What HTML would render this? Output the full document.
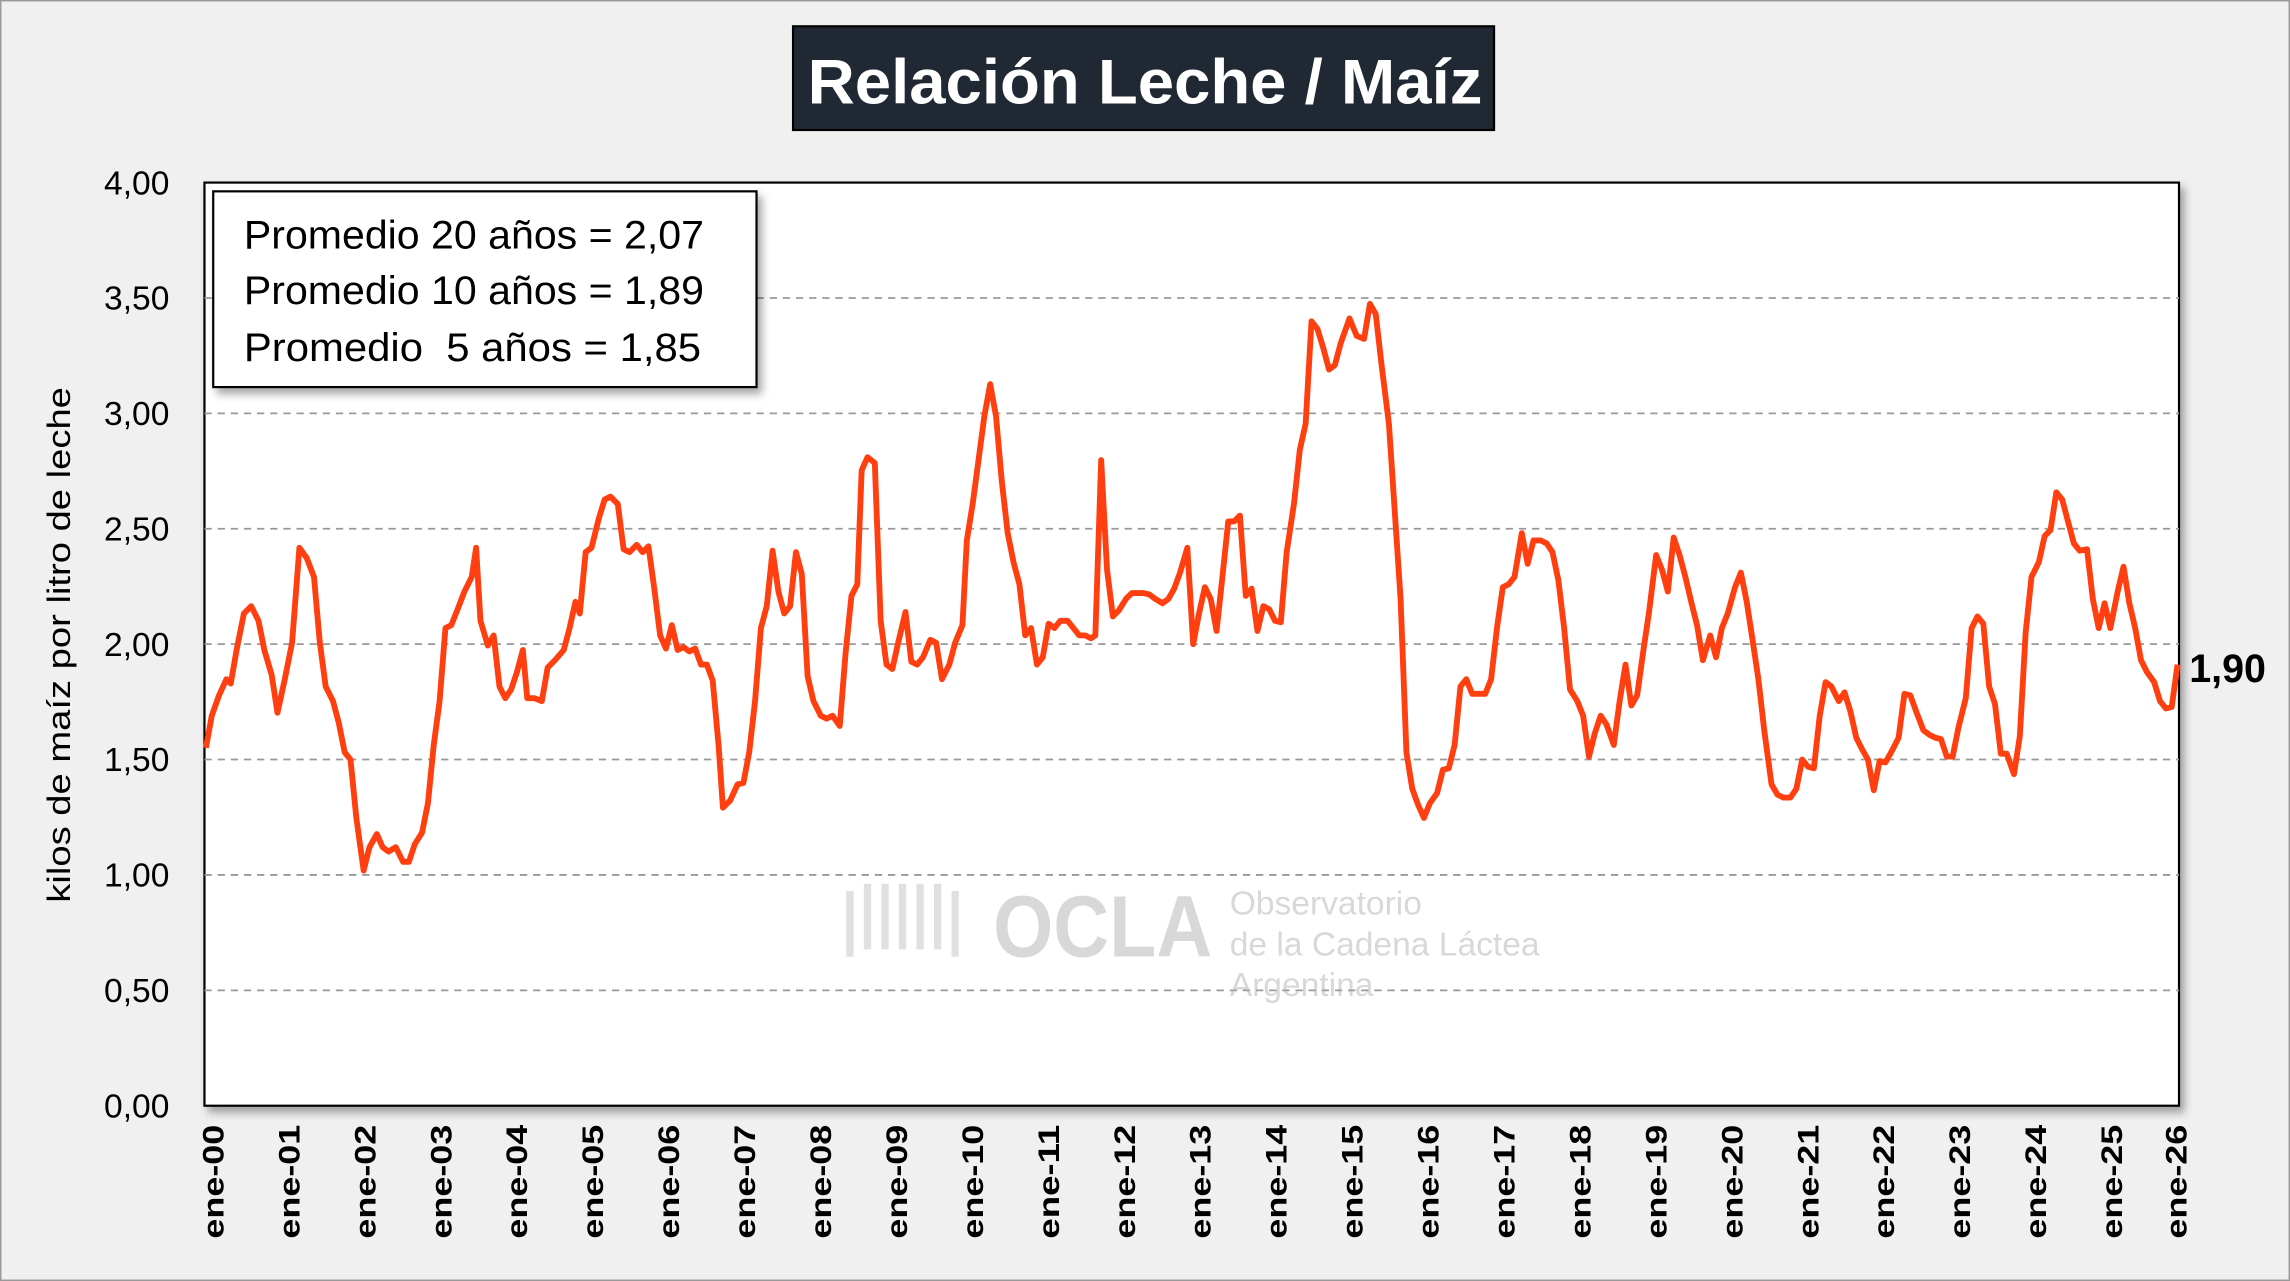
<!DOCTYPE html>
<html><head><meta charset="utf-8"><style>
html,body{margin:0;padding:0;background:#f0f0f0;}
svg{display:block;}
text{font-family:"Liberation Sans",sans-serif;}
</style></head><body>
<svg width="2290" height="1281" viewBox="0 0 1568 877" preserveAspectRatio="none" xmlns="http://www.w3.org/2000/svg">
<defs>
<filter id="sh" x="-5%" y="-5%" width="115%" height="115%"><feDropShadow dx="3" dy="4" stdDeviation="3" flood-color="#000" flood-opacity="0.35"/></filter>
</defs>
<rect x="0.5" y="0.5" width="1567" height="876" fill="#f0f0f0" stroke="#999" stroke-width="1"/>
<rect x="543" y="18" width="480" height="71" fill="#1f2833" stroke="#000" stroke-width="1.5"/>
<text x="553" y="71" font-size="43" font-weight="bold" fill="#fff" textLength="462" lengthAdjust="spacingAndGlyphs">Relación Leche / Maíz</text>
<rect x="140" y="125" width="1352" height="632" fill="#fff" stroke="#000" stroke-width="1.5" filter="url(#sh)"/>
<g stroke="#999" stroke-width="1.2" stroke-dasharray="5,4">
<line x1="140" y1="204" x2="1492" y2="204"/><line x1="140" y1="283" x2="1492" y2="283"/>
<line x1="140" y1="362" x2="1492" y2="362"/><line x1="140" y1="441" x2="1492" y2="441"/>
<line x1="140" y1="520" x2="1492" y2="520"/><line x1="140" y1="599" x2="1492" y2="599"/>
<line x1="140" y1="678" x2="1492" y2="678"/>
</g>
<g font-size="23" text-anchor="end" fill="#000">
<text x="116" y="133">4,00</text><text x="116" y="212">3,50</text><text x="116" y="291">3,00</text>
<text x="116" y="370">2,50</text><text x="116" y="449">2,00</text><text x="116" y="528">1,50</text>
<text x="116" y="607">1,00</text><text x="116" y="686">0,50</text><text x="116" y="765">0,00</text>
</g>
<text transform="translate(48,618) rotate(-90)" font-size="22" textLength="353" lengthAdjust="spacingAndGlyphs">kilos de maíz por litro de leche</text>
<g font-size="20" font-weight="bold" fill="#000">
<text transform="translate(153,848) rotate(-90)" textLength="78" lengthAdjust="spacingAndGlyphs">ene-00</text>
<text transform="translate(205,848) rotate(-90)" textLength="78" lengthAdjust="spacingAndGlyphs">ene-01</text>
<text transform="translate(257,848) rotate(-90)" textLength="78" lengthAdjust="spacingAndGlyphs">ene-02</text>
<text transform="translate(309,848) rotate(-90)" textLength="78" lengthAdjust="spacingAndGlyphs">ene-03</text>
<text transform="translate(361,848) rotate(-90)" textLength="78" lengthAdjust="spacingAndGlyphs">ene-04</text>
<text transform="translate(413,848) rotate(-90)" textLength="78" lengthAdjust="spacingAndGlyphs">ene-05</text>
<text transform="translate(465,848) rotate(-90)" textLength="78" lengthAdjust="spacingAndGlyphs">ene-06</text>
<text transform="translate(517,848) rotate(-90)" textLength="78" lengthAdjust="spacingAndGlyphs">ene-07</text>
<text transform="translate(569,848) rotate(-90)" textLength="78" lengthAdjust="spacingAndGlyphs">ene-08</text>
<text transform="translate(621,848) rotate(-90)" textLength="78" lengthAdjust="spacingAndGlyphs">ene-09</text>
<text transform="translate(673,848) rotate(-90)" textLength="78" lengthAdjust="spacingAndGlyphs">ene-10</text>
<text transform="translate(725,848) rotate(-90)" textLength="78" lengthAdjust="spacingAndGlyphs">ene-11</text>
<text transform="translate(777,848) rotate(-90)" textLength="78" lengthAdjust="spacingAndGlyphs">ene-12</text>
<text transform="translate(829,848) rotate(-90)" textLength="78" lengthAdjust="spacingAndGlyphs">ene-13</text>
<text transform="translate(881,848) rotate(-90)" textLength="78" lengthAdjust="spacingAndGlyphs">ene-14</text>
<text transform="translate(933,848) rotate(-90)" textLength="78" lengthAdjust="spacingAndGlyphs">ene-15</text>
<text transform="translate(985,848) rotate(-90)" textLength="78" lengthAdjust="spacingAndGlyphs">ene-16</text>
<text transform="translate(1037,848) rotate(-90)" textLength="78" lengthAdjust="spacingAndGlyphs">ene-17</text>
<text transform="translate(1089,848) rotate(-90)" textLength="78" lengthAdjust="spacingAndGlyphs">ene-18</text>
<text transform="translate(1141,848) rotate(-90)" textLength="78" lengthAdjust="spacingAndGlyphs">ene-19</text>
<text transform="translate(1193,848) rotate(-90)" textLength="78" lengthAdjust="spacingAndGlyphs">ene-20</text>
<text transform="translate(1245,848) rotate(-90)" textLength="78" lengthAdjust="spacingAndGlyphs">ene-21</text>
<text transform="translate(1297,848) rotate(-90)" textLength="78" lengthAdjust="spacingAndGlyphs">ene-22</text>
<text transform="translate(1349,848) rotate(-90)" textLength="78" lengthAdjust="spacingAndGlyphs">ene-23</text>
<text transform="translate(1401,848) rotate(-90)" textLength="78" lengthAdjust="spacingAndGlyphs">ene-24</text>
<text transform="translate(1453,848) rotate(-90)" textLength="78" lengthAdjust="spacingAndGlyphs">ene-25</text>
<text transform="translate(1497,848) rotate(-90)" textLength="78" lengthAdjust="spacingAndGlyphs">ene-26</text>
</g>
<g opacity="0.45" fill="#aaa">
<text x="680" y="655" font-size="60" font-weight="bold" textLength="150" lengthAdjust="spacingAndGlyphs">OCLA</text>
<text x="842" y="626" font-size="23">Observatorio</text>
<text x="842" y="654" font-size="23">de la Cadena Láctea</text>
<text x="842" y="682" font-size="23">Argentina</text>
<path d="M582 655 V610 M594 650 V605 M606 650 V605 M618 650 V605 M630 650 V605 M642 650 V605 M654 655 V610" stroke="#bbb" stroke-width="5" fill="none"/>
</g>
<rect x="146" y="131" width="372" height="134" fill="#fff" stroke="#000" stroke-width="1.5" filter="url(#sh)"/>
<g font-size="27" fill="#000">
<text x="167" y="170" textLength="315" lengthAdjust="spacingAndGlyphs">Promedio 20 años = 2,07</text>
<text x="167" y="208" textLength="315" lengthAdjust="spacingAndGlyphs">Promedio 10 años = 1,89</text>
<text x="167" y="247" textLength="313" lengthAdjust="spacingAndGlyphs">Promedio &#160;5 años = 1,85</text>
</g>
<polyline fill="none" stroke="#ff3f0f" stroke-width="4" stroke-linejoin="round" points="141,512 145,490 150,476 155,465 158,468 162,445 167,420 172,415 177,425 181,445 186,462 190,488 195,465 200,440 205,375 210,382 215,395 219,440 223,470 228,480 232,495 236,515 240,520 244,560 249,596 253,580 258,571 262,580 266,583 271,580 276,590 280,590 284,578 289,570 293,550 297,510 301,480 305,430 309,428 313,418 318,405 323,395 326,375 329,425 334,442 338,435 342,470 346,478 350,472 354,460 358,445 361,478 366,478 371,480 375,457 380,452 386,445 390,430 394,412 397,420 401,378 405,375 410,355 414,342 418,340 423,345 427,376 431,378 436,373 440,378 444,374 448,403 452,435 456,444 460,428 464,445 468,443 472,446 476,444 480,455 484,455 488,466 492,510 495,553 500,548 505,537 509,536 513,515 517,480 521,430 525,415 529,377 533,405 537,420 541,415 545,378 549,393 553,463 557,480 562,490 566,492 570,490 575,497 579,447 583,408 587,400 590,322 594,313 599,317 603,425 607,455 611,458 615,440 620,419 624,453 628,455 632,450 637,438 641,440 645,465 650,455 654,440 659,428 662,370 666,345 670,315 674,285 678,263 682,285 686,330 690,365 694,385 698,400 702,435 706,430 710,455 714,450 718,427 722,430 726,425 731,425 735,430 739,435 743,435 747,437 750,435 754,315 758,390 762,422 766,418 771,410 775,406 779,406 783,406 787,407 791,410 796,413 800,410 804,403 808,392 813,375 817,441 821,420 825,402 829,410 833,432 837,395 841,357 845,357 849,353 853,408 857,403 861,432 865,415 869,417 873,425 877,426 881,378 886,345 890,308 894,290 898,220 902,225 906,238 910,253 914,250 918,235 924,218 929,230 934,232 938,208 942,215 946,250 951,290 955,350 959,410 963,515 967,540 971,551 975,560 979,550 984,543 988,527 992,526 996,510 1000,470 1004,465 1008,475 1013,475 1017,475 1021,465 1025,430 1029,402 1033,400 1037,395 1042,365 1046,386 1050,370 1055,370 1059,372 1063,378 1067,397 1071,430 1075,472 1080,480 1084,490 1088,518 1092,502 1096,490 1100,496 1105,510 1109,480 1113,455 1117,483 1121,476 1125,447 1129,420 1134,380 1138,390 1142,405 1146,368 1150,380 1154,395 1158,412 1162,428 1166,452 1171,435 1175,450 1179,430 1183,420 1188,402 1192,392 1196,412 1200,438 1204,465 1208,500 1213,537 1217,544 1221,546 1226,546 1230,540 1234,520 1238,525 1242,526 1246,490 1250,467 1254,470 1259,480 1263,474 1267,487 1271,505 1275,513 1279,520 1283,541 1287,521 1291,522 1296,513 1300,505 1304,475 1308,476 1312,487 1317,500 1321,503 1325,505 1329,506 1333,518 1337,518 1341,498 1346,478 1350,430 1354,422 1358,427 1362,470 1366,482 1370,516 1374,516 1379,530 1383,504 1387,433 1391,395 1396,385 1400,367 1404,363 1408,337 1412,342 1416,357 1420,372 1424,377 1429,376 1433,410 1437,430 1441,413 1445,430 1450,405 1454,388 1458,413 1462,430 1466,452 1470,460 1475,467 1479,480 1483,485 1487,484 1491,455"/>
<text x="1499" y="467" font-size="27" font-weight="bold" fill="#000">1,90</text>
</svg>
</body></html>
